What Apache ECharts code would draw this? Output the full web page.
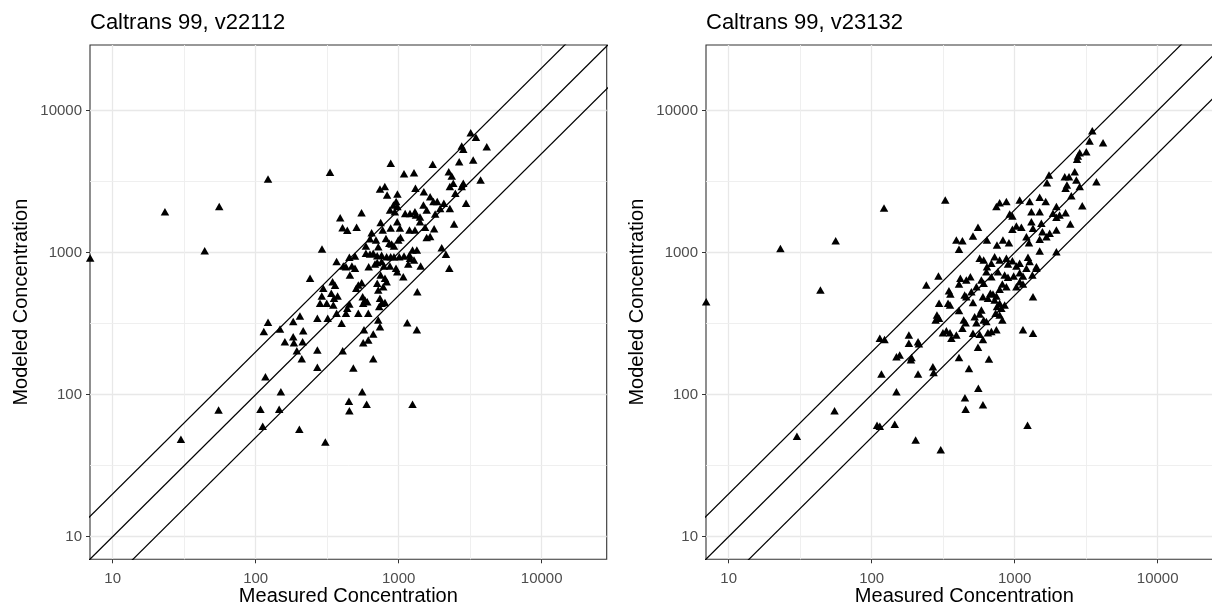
<!DOCTYPE html>
<html>
<head>
<meta charset="utf-8">
<title>Caltrans 99 – measured vs modeled</title>
<script src="https://cdn.jsdelivr.net/npm/echarts@6/dist/echarts.min.js"></script>
<style>
  html, body { margin: 0; padding: 0; background: #fff; }
  #chart { width: 1212px; height: 605px; }
</style>
</head>
<body>
<div id="chart"></div>
<script>
// Panel titles
const panelTitles = ['Caltrans 99, v22112', 'Caltrans 99, v23132'];

// Axis tick labels (log10 decades) and half-decade minor grid values
const tickValues = [10, 100, 1000, 10000];
const minorGridValues = [31.62, 316.2, 3162];

// Reference lines: modeled = ratio * measured
const refRatios = [2, 1, 0.5];

// [measured, modeled] pairs, version v22112
const pointsV22112 = [
  [880,4270],[1730,4200],[1090,3600],[1280,3650],[2760,5640],[2830,5350],[2650,4370],[3320,4500],[4130,5580],[2240,3720],
  [2350,3470],[2410,3080],[2280,2920],[2830,3080],[2760,2920],[3740,3250],[740,2810],[800,2920],[830,2550],[980,2590],
  [1310,2840],[1500,2690],[1660,2480],[1750,2290],[1860,2290],[2490,2620],[960,2290],[920,2170],[980,2110],[870,2000],
  [940,1940],[1110,1890],[1200,1890],[1300,1940],[1320,1840],[1410,1780],[1490,2170],[1570,2000],[1800,1870],[1950,2050],
  [2070,2230],[2280,2050],[2960,2230],[550,1910],[390,1760],[405,1500],[437,1440],[508,1510],[647,1380],[748,1630],
  [773,1445],[879,1490],[977,1650],[1020,1490],[1190,1445],[1300,1445],[1410,1650],[1530,1510],[1570,1280],[1660,1300],
  [1770,1475],[2440,1590],[2000,1085],[2140,975],[2260,777],[291,1060],[368,865],[452,929],[495,948],[590,1115],
  [630,1255],[694,1230],[720,1100],[815,1260],[860,1165],[893,1150],[927,1115],[994,1230],[1030,1280],[590,990],
  [630,979],[664,990],[708,953],[760,959],[824,937],[879,937],[927,937],[1010,937],[1090,948],[1190,964],
  [1250,1045],[1340,1045],[1200,914],[1280,889],[410,806],[428,797],[471,806],[495,777],[456,697],[617,797],
  [683,832],[708,851],[760,865],[789,806],[869,806],[958,777],[977,735],[1077,678],[1167,832],[1425,806],
  [240,661],[297,561],[290,495],[282,440],[345,625],[359,589],[338,518],[353,477],[314,440],[349,428],
  [374,495],[551,615],[522,593],[505,561],[560,490],[581,464],[748,697],[802,661],[824,625],[708,609],
  [780,576],[720,546],[1350,531],[452,435],[437,406],[428,374],[565,440],[603,452],[613,374],[740,477],
  [760,440],[802,445],[731,417],[368,374],[319,345],[270,345],[204,358],[183,327],[215,282],[522,374],
  [720,336],[740,301],[399,318],[1148,321],[1340,286],[664,268],[572,286],[331,3680],
  [122,324],[114,279],[148,290],[160,236],[183,256],[185,232],[213,236],[194,204],[210,179],[270,206],
  [270,156],[117,134],[150,105],[108,79],[146,79],[112,60],[55,78],[30,48.5],[202,57],[307,46.4],
  [406,204],[482,154],[565,232],[613,243],[664,179],[556,105],[449,90],[452,77],[597,85.5],[1250,85.5],
  [3190,7000],[3470,6500],[44,1030],[55.6,2110],[122,3300],[23.2,1945],[6.96,918]
];

// [measured, modeled] pairs, version v23132
const pointsV23132 = [
  [6.96,452],[23,1070],[56,1215],[43.8,546],[122,2060],[327,2350],[30,51],[55,77],[109,61],[114,60],
  [145,62],[203,48],[304,41],[1230,61],[114,250],[123,245],[149,185],[157,190],[117,140],[149,105],
  [211,140],[268,157],[271,143],[190,183],[188,176],[449,95],[557,111],[600,85],[454,79],[408,183],
  [479,153],[661,178],[554,216],[182,230],[211,236],[214,228],[182,263],
  [745,2110],[785,2250],[875,2290],[1084,2350],[1273,2290],[1496,2455],[1648,2290],[1738,3525],[1683,3110],[1958,2110],
  [923,1874],[964,1813],[1309,1945],[1496,1945],[1853,1894],[1958,1776],[554,1510],[391,1228],[431,1215],[408,1057],
  [511,1311],[640,1228],[752,1133],[828,1228],[912,1176],[964,1462],[1028,1542],[1114,1510],[1309,1653],[1343,1485],
  [1537,1611],[1563,1406],[1208,1297],[1259,1176],[1496,1242],[1667,1297],[1757,1370],[1958,1445],[1496,1028],[1239,929],
  [1273,865],[1419,797],[1958,1016],[569,914],[607,889],[640,797],[687,842],[724,937],[785,889],[875,914],
  [898,832],[964,878],[1028,806],[1084,842],[634,735],[687,678],[764,735],[851,697],[898,671],[984,685],
  [1084,723],[1143,685],[1208,777],[1419,777],[585,642],[607,609],[540,576],[490,678],[459,642],[820,602],
  [785,552],[875,576],[1028,576],[1084,625],[1143,602],[1330,697],[417,661],[408,602],[293,685],[241,593],
  [347,540],[355,512],[342,440],[353,428],[447,504],[459,490],[498,531],[600,490],[650,477],[676,518],
  [705,512],[745,495],[724,464],[785,440],[752,417],[807,406],[851,428],[296,440],[511,445],[408,391],
  [585,395],[286,364],[296,345],[280,336],[440,336],[454,321],[525,354],[540,321],[569,370],[607,336],
  [634,327],[785,364],[820,336],[736,374],[333,282],[315,273],[353,273],[391,263],[431,294],[511,271],
  [650,273],[687,278],[745,286],[1143,286],[1343,271],[1343,490],[361,250],[569,266],[600,245],
  [3490,7230],[3340,6120],[4150,5950],[3170,5140],[2850,5060],[2770,4800],[2730,4550],[2630,3720],[2240,3430],[2400,3430],
  [2700,3250],[2320,3000],[2270,2840],[2850,2920],[3730,3160],[2490,2520],[2060,1840],[2270,1910],[2970,2140],[2450,1590]
];

const panelPoints = [pointsV22112, pointsV23132];

// Axis extents (both panels share the same log range)
const X_MIN = 6.94, X_MAX = 28500;
const Y_MIN = 6.93, Y_MAX = 29000;
// Span used to build the reference lines (clipped to the panel)
const lineSpan = [1, 100000];

const FONT = '"Liberation Sans", Arial, Helvetica, sans-serif';
const panelLeft = [90, 706];
const panelTop = 45, panelW = 516.7, panelH = 514.3;

const chart = echarts.init(document.getElementById('chart'), null, { renderer: 'canvas', width: 1212, height: 605 });

// Panels keep their exact size; the right one runs past the canvas edge
const grids = panelLeft.map(l => ({
  left: l, top: panelTop, width: panelW, height: panelH,
  show: true, backgroundColor: '#ffffff', borderColor: '#333333', borderWidth: 1.1,
  containLabel: false, outerBoundsMode: 'none'
}));

const titles = panelTitles.map((t, i) => ({
  text: t, left: panelLeft[i], top: 12, padding: 0,
  textStyle: { fontFamily: FONT, fontSize: 22, fontWeight: 'normal', color: '#000' }
}));

const labelFmt = v => String(Math.round(v));

const xAxes = panelLeft.map((_, i) => ({
  type: 'log', logBase: 10, gridIndex: i, min: X_MIN, max: X_MAX,
  name: 'Measured Concentration', nameLocation: 'middle', nameGap: 27.5, nameMoveOverlap: false,
  nameTextStyle: { fontFamily: FONT, fontSize: 20, color: '#000' },
  axisLine: { show: false },
  axisTick: { show: true, length: 4, lineStyle: { color: '#333333', width: 1 }, customValues: tickValues },
  axisLabel: { fontFamily: FONT, fontSize: 15, color: '#4d4d4d', margin: 12, customValues: tickValues, formatter: labelFmt },
  splitLine: { show: true, lineStyle: { color: '#e8e8e8', width: 1.3 } }
}));

const yAxes = panelLeft.map((_, i) => ({
  type: 'log', logBase: 10, gridIndex: i, min: Y_MIN, max: Y_MAX,
  name: 'Modeled Concentration', nameLocation: 'middle', nameGap: 59, nameMoveOverlap: false,
  nameTextStyle: { fontFamily: FONT, fontSize: 20, color: '#000' },
  axisLine: { show: false },
  axisTick: { show: true, length: 4, lineStyle: { color: '#333333', width: 1 }, customValues: tickValues },
  axisLabel: { fontFamily: FONT, fontSize: 15, color: '#4d4d4d', margin: 8, customValues: tickValues, formatter: labelFmt },
  splitLine: { show: true, lineStyle: { color: '#e8e8e8', width: 1.3 } }
}));

const series = [];
panelPoints.forEach((pts, i) => {
  // 2:1, 1:1 and 1:2 reference lines
  refRatios.forEach((r, k) => {
    const s = {
      type: 'line', xAxisIndex: i, yAxisIndex: i,
      data: lineSpan.map(x => [x, x * r]),
      showSymbol: false, symbol: 'none', silent: true, clip: true,
      lineStyle: { color: '#000', width: 1.2 }, z: 2
    };
    if (k === 1) {
      // half-decade minor grid lines
      s.markLine = {
        silent: true, symbol: 'none', z: 1, animation: false,
        label: { show: false },
        lineStyle: { color: '#ededed', width: 0.9, type: 'solid' },
        data: minorGridValues.map(v => ({ xAxis: v })).concat(minorGridValues.map(v => ({ yAxis: v })))
      };
    }
    series.push(s);
  });
  series.push({
    type: 'scatter', xAxisIndex: i, yAxisIndex: i, data: pts,
    symbol: 'triangle', symbolSize: [8.5, 7.5], silent: true,
    itemStyle: { color: '#000', opacity: 1 }, z: 3
  });
});

chart.setOption({
  animation: false,
  backgroundColor: '#ffffff',
  textStyle: { fontFamily: FONT },
  title: titles,
  grid: grids,
  xAxis: xAxes,
  yAxis: yAxes,
  series: series
});
</script>
</body>
</html>
